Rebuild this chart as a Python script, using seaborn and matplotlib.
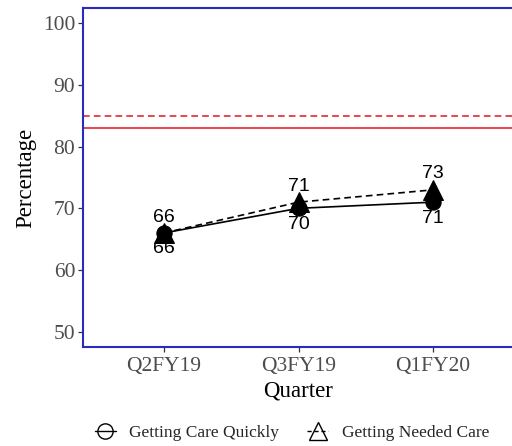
import matplotlib
matplotlib.use("Agg")
import matplotlib.pyplot as plt
import seaborn as sns
import pandas as pd
from matplotlib.lines import Line2D

quarters = ["Q2FY19", "Q3FY19", "Q1FY20"]
care_quickly = [66, 70, 71]
needed_care = [66, 71, 73]
series_names = ["Getting Care Quickly", "Getting Needed Care"]
target_solid = 83
target_dashed = 85

df = pd.DataFrame({
    "Quarter": quarters * 2,
    "x": list(range(len(quarters))) * 2,
    "Percentage": care_quickly + needed_care,
    "Measure": [series_names[0]] * 3 + [series_names[1]] * 3,
})

sns.set_theme(style="white")
plt.rcParams['font.family'] = ['Liberation Serif', 'DejaVu Serif']

fig = plt.figure(figsize=(5.12, 4.46), dpi=100)
ax = fig.add_axes([83/512, 99/446, 431/512, 339/446])

sns.lineplot(data=df, x="x", y="Percentage", hue="Measure", style="Measure",
             palette=["black", "black"], markers=["o", "^"],
             dashes=[(None, None), (4, 2.5)], markersize=11, linewidth=1.2,
             markeredgecolor="black", legend=False, ax=ax)
for ln in ax.lines:
    if ln.get_marker() == "^":
        ln.set_markersize(14)
        ln.set_zorder(3)
    else:
        ln.set_zorder(2)

ax.axhline(target_solid, color="#e8262b", lw=1.2)
ax.axhline(target_dashed, color="#e8262b", lw=1.2, ls=(0, (4, 2.5)))

for i, v in enumerate(care_quickly):
    ax.annotate(f"{v}", (i, v), xytext=(0, -11.5), textcoords="offset points",
                ha="center", va="center", fontsize=14, family="Liberation Sans",
                color="black", zorder=4)
for i, v in enumerate(needed_care):
    ax.annotate(f"{v}", (i, v), xytext=(0, 11.5), textcoords="offset points",
                ha="center", va="center", fontsize=14, family="Liberation Sans",
                color="black", zorder=4)

ax.set_xlim(-0.6, 2.6)
ax.set_ylim(47.5, 102.5)
ax.set_xticks(range(len(quarters)))
ax.set_xticklabels(quarters)
ax.set_yticks([50, 60, 70, 80, 90, 100])
ax.tick_params(axis="both", which="both", length=3.5, width=0.9, color="#333333",
               labelsize=15.5, labelcolor="#4d4d4d", left=True, bottom=True, pad=2)
ax.tick_params(axis="x", pad=4)
ax.set_xlabel("Quarter", fontsize=16.5, color="black", labelpad=3)
ax.set_ylabel("Percentage", fontsize=16.5, color="black", labelpad=5)
for s in ax.spines.values():
    s.set_color("#2a2ac0")
    s.set_linewidth(1.5)
ax.grid(False)

handles = [
    Line2D([0], [0], color="black", lw=1, ls="-", marker="o", markersize=11,
           markerfacecolor="none", markeredgecolor="black"),
    Line2D([0], [0], color="black", lw=1, ls=(0, (3, 2)), marker="^", markersize=13,
           markerfacecolor="none", markeredgecolor="black"),
]
fig.legend(handles, series_names, loc="center", bbox_to_anchor=(292/512, 1 - 433/446),
           ncol=2, frameon=False, fontsize=12.5, handlelength=1.2, columnspacing=1.6,
           handletextpad=0.8)

fig.savefig("out.png", dpi=100)
